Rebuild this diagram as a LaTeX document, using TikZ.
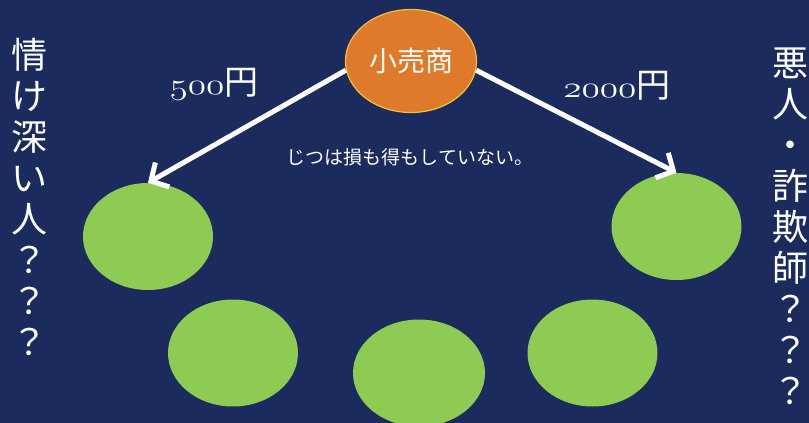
\documentclass[tikz,border=0pt]{standalone}
\usepackage{fontspec}
\newfontfamily\jp{Noto Sans CJK JP}
\usetikzlibrary{arrows.meta,shapes.geometric}
\definecolor{navy}{HTML}{1C2B5E}
\definecolor{leaf}{HTML}{8DCB52}
\definecolor{amber}{HTML}{DF7A2A}
\definecolor{rim}{HTML}{F2C23A}
\newcommand{\osn}[1]{\scalebox{1.5}[1.2]{\usefont{OML}{lmm}{m}{it}#1}}
\tikzset{
  greenball/.style={ellipse, fill=leaf, minimum width=130pt, minimum height=107pt, inner sep=0pt},
  flow/.style={white, line width=5pt, -{Straight Barb[length=13pt,width=28pt,line width=5pt]}},
  lab/.style={text=white, font=\fontsize{34}{36}\selectfont, inner sep=0pt},
  vert/.style={text=white, align=center, font=\jp\fontsize{36}{41}\selectfont, inner sep=0pt}
}
\begin{document}
\begin{tikzpicture}[x=1pt,y=-1pt]
\fill[navy] (0,0) rectangle (809,423);
\useasboundingbox (0,0) rectangle (809,423);
\node[ellipse, fill=amber, draw=rim, line width=1.2pt, minimum width=131pt, minimum height=103pt, inner sep=0pt, text=white, font=\jp\fontsize{28}{30}\selectfont] (shop) at (411,61) {小売商};
\node[greenball] (g1) at (148,236.5) {};
\node[greenball] (g2) at (676.5,226.5) {};
\node[greenball] (g3) at (233,353) {};
\node[greenball, minimum width=132pt] (g4) at (419,373) {};
\node[greenball] (g5) at (592.5,353) {};
\draw[flow] (shop.188) -- (g1.north);
\draw[flow] (shop.-8) -- (g2.north);
\node[lab] (p1) at (214,84) {\osn{500}\jp\fontsize{34}{36}\selectfont 円};
\node[lab] (p2) at (617,86) {\osn{2000}\jp\fontsize{34}{36}\selectfont 円};
\node[text=white, font=\jp\fontsize{19}{21}\selectfont] (note) at (410,157) {じつは損も得もしていない。};
\node[vert, anchor=north] (left) at (29,38) {情\\け\\深\\い\\人\\？\\？\\？};
\node[vert, anchor=north] (right) at (790,48) {悪\\人\\・\\詐\\欺\\師\\？\\？\\？};
\end{tikzpicture}
\end{document}
